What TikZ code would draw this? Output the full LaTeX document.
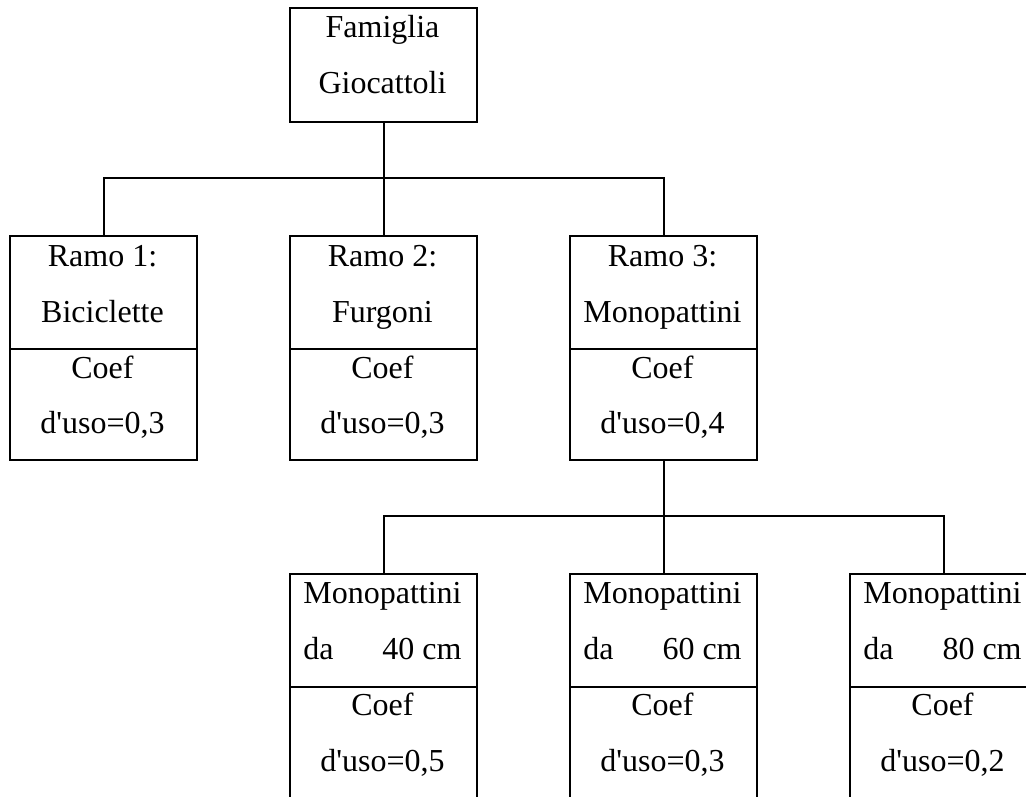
\documentclass[tikz,border=0pt]{standalone}
\usepackage{fontspec}
\setmainfont{Liberation Serif}[Ligatures=TeXOff]
\begin{document}
\begin{tikzpicture}[x=1pt,y=-1pt,
  cell/.style={draw,line width=2.4pt,minimum width=187pt,minimum height=113pt,inner sep=0pt,anchor=north west},
  txt/.style={anchor=base,font=\fontsize{32}{37}\selectfont,inner sep=0pt},
  link/.style={line width=2.4pt}]
\useasboundingbox (0,0) rectangle (1026,796);
\clip (0,0) rectangle (1026,796);
% top
\node[cell,minimum height=114pt] (top) at (289,7) {};
\node[txt] (t1) at (382.5,37) {Famiglia};
\node[txt] (t2) at (382.5,93) {Giocattoli};
% row 2
\node[cell] (r1a) at (9,235) {};
\node[cell,minimum height=111pt] (r1b) at (9,348) {};
\node[cell] (r2a) at (289,235) {};
\node[cell,minimum height=111pt] (r2b) at (289,348) {};
\node[cell] (r3a) at (569,235) {};
\node[cell,minimum height=111pt] (r3b) at (569,348) {};
\node[txt] (a1) at (102.5,266) {Ramo 1:};
\node[txt] (a2) at (102.5,322) {Biciclette};
\node[txt] (a3) at (102.5,378) {Coef};
\node[txt] (a4) at (102.5,433) {d'uso=0,3};
\node[txt] (b1) at (382.5,266) {Ramo 2:};
\node[txt] (b2) at (382.5,322) {Furgoni};
\node[txt] (b3) at (382.5,378) {Coef};
\node[txt] (b4) at (382.5,433) {d'uso=0,3};
\node[txt] (c1) at (662.5,266) {Ramo 3:};
\node[txt] (c2) at (662.5,322) {Monopattini};
\node[txt] (c3) at (662.5,378) {Coef};
\node[txt] (c4) at (662.5,433) {d'uso=0,4};
% row 3
\node[cell] (r4a) at (289,573) {};
\node[cell] (r4b) at (289,686) {};
\node[cell] (r5a) at (569,573) {};
\node[cell] (r5b) at (569,686) {};
\node[cell] (r6a) at (849,573) {};
\node[cell] (r6b) at (849,686) {};
\node[txt] (d1) at (382.5,603) {Monopattini};
\node[txt] (d2) at (382.5,659) {\setbox0\hbox{Monopattini}\hbox to \wd0{da\hfill 40 cm}};
\node[txt] (d3) at (382.5,715) {Coef};
\node[txt] (d4) at (382.5,771) {d'uso=0,5};
\node[txt] (e1) at (662.5,603) {Monopattini};
\node[txt] (e2) at (662.5,659) {\setbox0\hbox{Monopattini}\hbox to \wd0{da\hfill 60 cm}};
\node[txt] (e3) at (662.5,715) {Coef};
\node[txt] (e4) at (662.5,771) {d'uso=0,3};
\node[txt] (f1) at (942.5,603) {Monopattini};
\node[txt] (f2) at (942.5,659) {\setbox0\hbox{Monopattini}\hbox to \wd0{da\hfill 80 cm}};
\node[txt] (f3) at (942.5,715) {Coef};
\node[txt] (f4) at (942.5,771) {d'uso=0,2};
% connectors
\coordinate (j1) at (382.5,178);
\coordinate (j2) at (662.5,516);
\draw[link] (top.south) -- (r2a.north);
\draw[link] (r1a.north) -- (r1a.north |- j1) -- (r3a.north |- j1) -- (r3a.north);
\draw[link] (r3b.south) -- (r5a.north);
\draw[link] (r4a.north) -- (r4a.north |- j2) -- (r6a.north |- j2) -- (r6a.north);
\end{tikzpicture}
\end{document}
